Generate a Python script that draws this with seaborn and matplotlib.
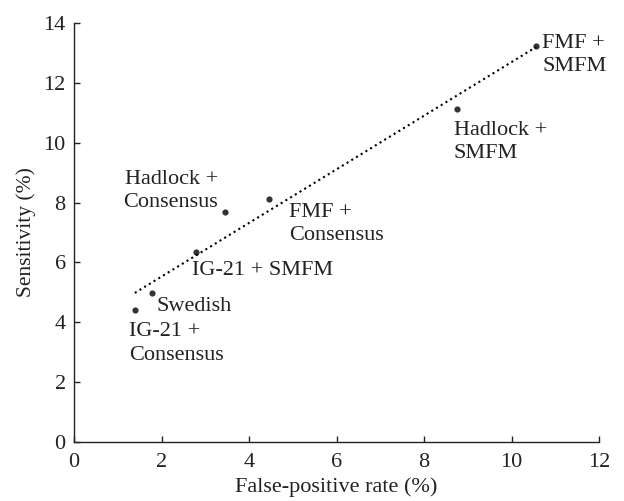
import seaborn as sns
import pandas as pd
import matplotlib.pyplot as plt

# values
methods = ["IG-21 +\nConsensus", "Swedish", "IG-21 + SMFM", "Hadlock +\nConsensus",
           "FMF +\nConsensus", "Hadlock +\nSMFM", "FMF +\nSMFM"]
fpr = [1.39, 1.79, 2.79, 3.45, 4.46, 8.75, 10.56]
sens = [4.40, 4.99, 6.34, 7.68, 8.11, 11.12, 13.24]

# label placement: (dx, dy) in pixels, ha, va
label_pos = [(-6, -12, "left", "top"),
             (4, -4, "left", "top"),
             (-4, -9, "left", "top"),
             (-7, 0, "right", "bottom"),
             (20, -4, "left", "top"),
             (-3, -12, "left", "top"),
             (6, 12, "left", "top")]

df = pd.DataFrame({"fpr": fpr, "sens": sens, "method": methods})

sns.set_style("ticks")
plt.rcParams["font.family"] = ["Liberation Serif", "DejaVu Serif"]

fig = plt.figure(figsize=(6.24, 5.01), dpi=100)
ax = fig.add_axes([74 / 624, 1 - 442 / 501, 525 / 624, 419 / 501])

sns.regplot(data=df, x="fpr", y="sens", ci=None, ax=ax, color="black",
            scatter_kws={"s": 20, "linewidths": 0},
            line_kws={"linestyle": ":", "linewidth": 1.5})

for (x, y, m), (dx, dy, ha, va) in zip(zip(fpr, sens, methods), label_pos):
    ax.annotate(m, (x, y), xytext=(dx, dy), textcoords="offset pixels",
                ha=ha, va=va, fontsize=16, color="#222222", linespacing=1.3)

ax.set_xlim(0, 12)
ax.set_ylim(0, 14)
ax.set_xticks(range(0, 13, 2))
ax.set_yticks(range(0, 15, 2))
ax.tick_params(direction="in", length=4, width=1, labelsize=16, colors="#222222", pad=6)
ax.tick_params(axis="x", pad=8)
ax.set_xlabel("False-positive rate (%)", fontsize=16, color="#222222", labelpad=4)
ax.set_ylabel("Sensitivity (%)", fontsize=15.5, color="#222222", labelpad=5)
sns.despine(ax=ax)
for s in ["left", "bottom"]:
    ax.spines[s].set_linewidth(1)
    ax.spines[s].set_color("#222222")

plt.savefig("out.png", dpi=100)
plt.close()
